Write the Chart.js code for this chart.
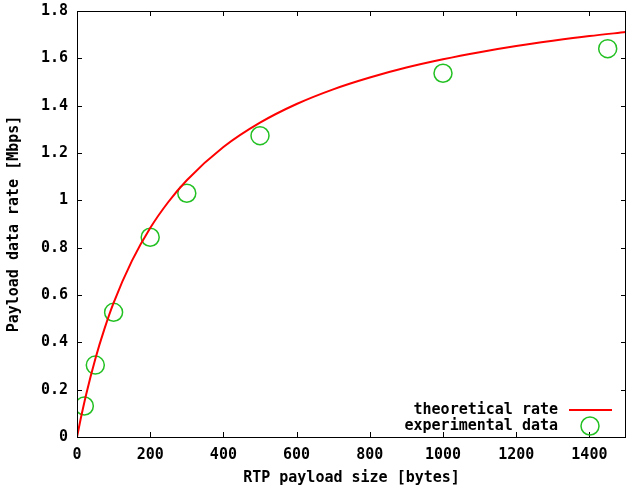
<!DOCTYPE html>
<html>
<head>
<meta charset="utf-8">
<script src="https://cdn.jsdelivr.net/npm/chart.js@4/dist/chart.umd.min.js"></script>
<style>
  body { margin: 0; background: #fff; }
  canvas { display: block; }
</style>
</head>
<body>
<canvas id="rateChart" width="627" height="487"></canvas>
<script>
// theoretical curve
const theoryX = [0, 10, 25, 50, 75, 100, 150, 200, 250, 300, 400, 500, 600, 700, 800, 900, 1000, 1100, 1200, 1300, 1400, 1500];
const theoryY = [0, 0.076, 0.18, 0.33, 0.457, 0.567, 0.744, 0.883, 0.994, 1.085, 1.225, 1.328, 1.407, 1.469, 1.519, 1.561, 1.596, 1.626, 1.652, 1.674, 1.694, 1.711];

// measured points
const expX = [20, 50, 100, 200, 300, 500, 1000, 1450];
const expY = [0.131, 0.304, 0.527, 0.844, 1.03, 1.273, 1.537, 1.641];

const xTicks = [0, 200, 400, 600, 800, 1000, 1200, 1400];
const yTicks = [0, 0.2, 0.4, 0.6, 0.8, 1, 1.2, 1.4, 1.6, 1.8];
const xMax = 1500;

const seriesNames = ['theoretical rate', 'experimental data'];
const red = '#ff0000';
const green = '#22c022';
const fontFace = '"DejaVu Sans Mono", monospace';
const fontSize = 15;

// gnuplot style frame: border plus inward ticks on all four sides
const framePlugin = {
    id: 'frame',
    afterDraw(chart) {
        const { ctx, chartArea: a, scales } = chart;
        ctx.save();
        ctx.strokeStyle = '#000';
        ctx.lineWidth = 1;
        ctx.strokeRect(a.left + 0.5, a.top + 0.5, a.right - a.left - 1, a.bottom - a.top);
        const len = 5;
        ctx.beginPath();
        xTicks.forEach(v => {
            const px = Math.round(scales.x.getPixelForValue(v)) + 0.5;
            ctx.moveTo(px, a.bottom); ctx.lineTo(px, a.bottom - len);
            ctx.moveTo(px, a.top); ctx.lineTo(px, a.top + len);
        });
        yTicks.forEach(v => {
            const py = Math.round(scales.y.getPixelForValue(v)) + 0.5;
            ctx.moveTo(a.left, py); ctx.lineTo(a.left + len, py);
            ctx.moveTo(a.right, py); ctx.lineTo(a.right - len, py);
        });
        ctx.stroke();

        // key in the lower right corner
        ctx.font = 'bold ' + fontSize + 'px ' + fontFace;
        ctx.fillStyle = '#000';
        ctx.textAlign = 'right';
        ctx.textBaseline = 'middle';
        const tx = a.right - 68;
        const row1 = a.bottom - 27, row2 = a.bottom - 11;
        ctx.fillText(seriesNames[0], tx, row1);
        ctx.fillText(seriesNames[1], tx, row2);
        ctx.strokeStyle = red;
        ctx.lineWidth = 2;
        ctx.beginPath();
        ctx.moveTo(a.right - 57, row1); ctx.lineTo(a.right - 14, row1);
        ctx.stroke();
        ctx.strokeStyle = green;
        ctx.lineWidth = 1.5;
        ctx.beginPath();
        ctx.arc(a.right - 36, row2, 9, 0, Math.PI * 2);
        ctx.stroke();
        ctx.restore();
    }
};

const ctx = document.getElementById('rateChart').getContext('2d');
new Chart(ctx, {
    type: 'scatter',
    data: {
        datasets: [
            {
                label: seriesNames[0],
                data: theoryX.map((x, i) => ({ x, y: theoryY[i] })),
                showLine: true,
                borderColor: red,
                borderWidth: 2,
                pointRadius: 0,
                cubicInterpolationMode: 'monotone',
                fill: false
            },
            {
                label: seriesNames[1],
                data: expX.map((x, i) => ({ x, y: expY[i] })),
                showLine: false,
                pointStyle: 'circle',
                pointRadius: 9,
                pointBorderWidth: 1.5,
                pointBorderColor: green,
                pointBackgroundColor: 'rgba(0,0,0,0)'
            }
        ]
    },
    options: {
        responsive: false,
        animation: false,
        layout: { autoPadding: false, padding: { top: 11, right: 1, left: 0, bottom: 0 } },
        plugins: {
            legend: { display: false },
            tooltip: { enabled: false }
        },
        scales: {
            x: {
                type: 'linear',
                min: 0,
                max: xMax,
                afterBuildTicks: s => { s.ticks = xTicks.map(v => ({ value: v })); },
                afterFit: s => { s.height = 50; s.paddingLeft = 0; s.paddingRight = 0; },
                grid: { display: false, drawTicks: false },
                border: { display: false },
                ticks: {
                    padding: 9,
                    color: '#000',
                    font: { family: fontFace, size: fontSize, weight: 'bold' },
                    maxRotation: 0,
                    autoSkip: false,
                    callback: v => String(v)
                },
                title: {
                    display: true,
                    text: 'RTP payload size [bytes]',
                    color: '#000',
                    font: { family: fontFace, size: fontSize, weight: 'bold' },
                    padding: { top: 4, bottom: 0 }
                }
            },
            y: {
                type: 'linear',
                min: 0,
                max: 1.8,
                afterBuildTicks: s => { s.ticks = yTicks.map(v => ({ value: v })); },
                afterFit: s => { s.width = 77; s.paddingTop = 0; s.paddingBottom = 0; },
                grid: { display: false, drawTicks: false },
                border: { display: false },
                ticks: {
                    padding: 9,
                    color: '#000',
                    font: { family: fontFace, size: fontSize, weight: 'bold' },
                    callback: v => String(Math.round(v * 10) / 10)
                },
                title: {
                    display: true,
                    text: 'Payload data rate [Mbps]',
                    color: '#000',
                    font: { family: fontFace, size: fontSize, weight: 'bold' },
                    padding: { top: 5, bottom: 0 }
                }
            }
        }
    },
    plugins: [framePlugin]
});
</script>
</body>
</html>
